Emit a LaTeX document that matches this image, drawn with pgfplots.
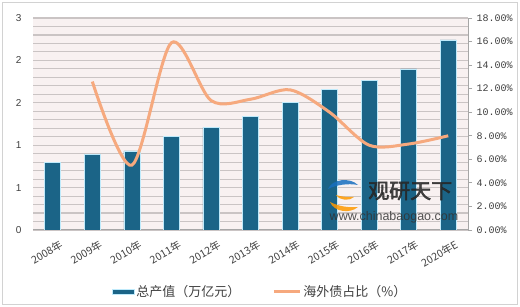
\documentclass[border=0pt]{standalone}
\usepackage{pgfplots}
\pgfplotsset{compat=1.18}
\usepackage{fontspec}
\setmainfont{Liberation Sans}
\newfontfamily\cjk{Noto Sans CJK SC}
\newfontfamily\cjkb[FakeBold=2.5]{Noto Sans CJK SC}
\newfontfamily\mono{Liberation Mono}
\definecolor{barc}{HTML}{1B6487}
\definecolor{linec}{HTML}{F6A97E}
\definecolor{bg}{HTML}{F8F1F1}
\definecolor{gridc}{HTML}{CAC4C4}
\definecolor{txt}{HTML}{404040}
\begin{document}
\begin{tikzpicture}[x=1pt,y=1pt]
\path[use as bounding box] (0,0) rectangle (520,307);
\draw[gray!35, line width=1.5pt, fill=white] (2.5,2.5) rectangle (517.5,304.5);
\begin{axis}[
  at={(33pt,77pt)}, anchor=south west,
  width=435pt, height=212pt, scale only axis,
  xmin=-0.5, xmax=10.5, ymin=0, ymax=3,
  axis background/.style={fill=bg},
  xtick={0,...,10},
  xticklabels={2008年,2009年,2010年,2011年,2012年,2013年,2014年,2015年,2016年,2017年,2020年E},
  xticklabel style={font=\cjk\fontsize{10.5}{11}\selectfont, rotate=30, anchor=north east, text=txt, yshift=-8pt, xshift=4pt},
  ytick={0,0.6,1.2,1.8,2.4,3}, yticklabels={0,1,1,2,2,3},
  yticklabel style={font=\fontsize{10}{12}\selectfont, text=txt, xshift=-8pt},
  minor y tick num=4, ymajorgrids, yminorgrids,
  major grid style={gridc, line width=1.1pt},
  minor grid style={gridc, line width=1.1pt},
  axis lines*=left,
  y axis line style={draw=none},
  x axis line style={gray!70, line width=1pt, -},
  major tick length=0pt, minor tick length=0pt,
  ybar, bar width=16pt,
]
\addplot[fill=barc, draw=white!75!cyan, line width=0.6pt] coordinates {
(0,0.96) (1,1.07) (2,1.12) (3,1.32) (4,1.45) (5,1.61) (6,1.81) (7,1.99) (8,2.12) (9,2.28) (10,2.69)};
\end{axis}
% watermark
\begin{scope}[opacity=0.85]
\fill[orange!80!yellow] (330,105) .. controls (334,95) and (350,93) .. (358,100) .. controls (348,99) and (338,101) .. (330,105) -- cycle;
\fill[cyan!50!blue] (328,118) .. controls (332,128) and (350,130) .. (358,122) .. controls (348,124) and (336,122) .. (328,118) -- cycle;
\fill[orange!80!yellow] (336,112) .. controls (340,106) and (350,106) .. (354,110) .. controls (348,110) and (342,110) .. (336,112) -- cycle;
\node[font=\cjkb\fontsize{21}{22}\selectfont, text=black!85, anchor=west, inner sep=0pt] at (368,116) {观研天下};
\node[font=\fontsize{12.5}{13}\selectfont, text=black!80, anchor=center, inner sep=0pt] at (394,90) {www.chinabaogao.com};
\end{scope}
\begin{axis}[
  at={(33pt,77pt)}, anchor=south west,
  width=435pt, height=212pt, scale only axis,
  xmin=-0.5, xmax=10.5, ymin=0, ymax=18,
  axis x line=none, axis y line*=right,
  y axis line style={gray!70, line width=0.8pt, -},
  ytick={0,2,...,18},
  yticklabel={\pgfmathprintnumber[fixed,fixed zerofill,precision=2]{\tick}\%},
  /pgf/number format/assume math mode=true,
  yticklabel style={font=\mono\fontsize{10}{12}\selectfont, text=txt, xshift=1pt},
  ytick align=outside, major tick length=4pt,
  tick style={gray!70, line width=0.8pt},
  legend style={at={(axis description cs:0.522,-0.29)}, anchor=center, draw=none, fill=none,
    legend columns=2, /tikz/every even column/.append style={column sep=30pt},
    font=\cjk\fontsize{13}{15}\selectfont, text=txt},
]
\addlegendimage{legend image code/.code={\fill[barc, draw=white!75!cyan, line width=0.6pt] (0pt,-2.5pt) rectangle (22pt,2.5pt);}}
\addlegendentry{总产值（万亿元）}
\addplot[smooth, linec, line width=3pt,
  legend image code/.code={\draw[linec, line width=3pt] (0pt,0pt) -- (26pt,0pt);}]
  coordinates {(1,12.6) (2,5.5) (3,15.9) (4,11.0) (5,11.1) (6,11.9) (7,10.0) (8,7.2) (9,7.3) (10,8.0)};
\addlegendentry{海外债占比（\%）}
\end{axis}
\end{tikzpicture}
\end{document}
